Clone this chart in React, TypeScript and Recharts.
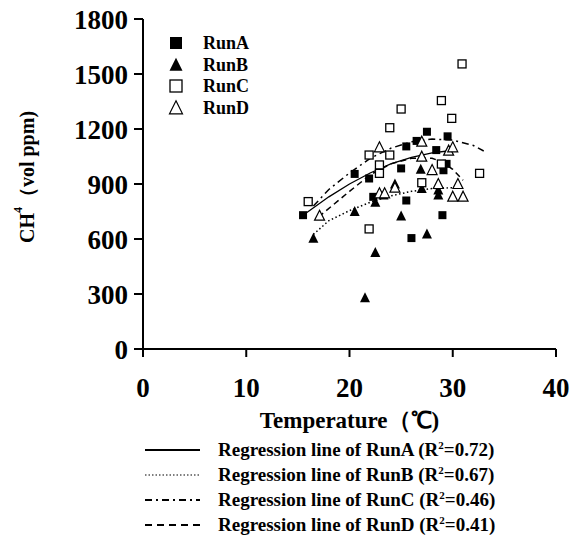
import React from "react";
import { ScatterChart, Scatter, XAxis, YAxis } from "recharts";

// axis ticks
const xTicks = [0, 10, 20, 30, 40];
const yTicks = [0, 300, 600, 900, 1200, 1500, 1800];

// observed CH4 (vol ppm) vs temperature
const runA = [
	{ x: 15.5, y: 730 }, { x: 20.5, y: 955 }, { x: 21.9, y: 930 }, { x: 22.3, y: 830 },
	{ x: 25.0, y: 985 }, { x: 25.5, y: 1105 }, { x: 25.5, y: 810 }, { x: 26.0, y: 605 },
	{ x: 26.5, y: 1135 }, { x: 27.5, y: 1185 }, { x: 28.4, y: 1085 }, { x: 29.0, y: 730 },
	{ x: 29.1, y: 975 }, { x: 29.4, y: 1010 }, { x: 29.5, y: 1160 },
];
const runB = [
	{ x: 16.5, y: 604 }, { x: 20.5, y: 750 }, { x: 21.5, y: 280 }, { x: 22.5, y: 527 },
	{ x: 22.5, y: 800 }, { x: 23.3, y: 840 }, { x: 24.4, y: 900 }, { x: 25.0, y: 725 },
	{ x: 26.9, y: 980 }, { x: 27.0, y: 876 }, { x: 27.5, y: 627 }, { x: 28.6, y: 867 },
	{ x: 28.6, y: 840 },
];
const runC = [
	{ x: 16.0, y: 804 }, { x: 21.9, y: 1058 }, { x: 21.9, y: 655 }, { x: 22.9, y: 1004 },
	{ x: 22.9, y: 958 }, { x: 23.9, y: 1207 }, { x: 23.9, y: 1058 }, { x: 25.0, y: 1309 },
	{ x: 27.0, y: 907 }, { x: 28.9, y: 1355 }, { x: 28.9, y: 1009 }, { x: 29.9, y: 1258 },
	{ x: 30.9, y: 1555 }, { x: 32.6, y: 958 },
];
const runD = [
	{ x: 17.1, y: 727 }, { x: 22.9, y: 1100 }, { x: 22.9, y: 849 }, { x: 23.4, y: 849 },
	{ x: 24.4, y: 880 }, { x: 27.0, y: 1131 }, { x: 27.0, y: 1049 }, { x: 28.0, y: 976 },
	{ x: 28.6, y: 900 }, { x: 29.6, y: 1082 }, { x: 30.0, y: 1100 }, { x: 30.0, y: 831 },
	{ x: 30.5, y: 900 }, { x: 31.0, y: 831 },
];

// regression curves
const fitA = [
	{ x: 15.5, y: 730 }, { x: 18, y: 830 }, { x: 20, y: 900 }, { x: 22, y: 960 },
	{ x: 24, y: 1010 }, { x: 26, y: 1045 }, { x: 28, y: 1070 }, { x: 29.5, y: 1080 },
];
const fitB = [
	{ x: 16.5, y: 625 }, { x: 18, y: 700 }, { x: 20, y: 755 }, { x: 22, y: 800 },
	{ x: 24, y: 835 }, { x: 26, y: 860 }, { x: 28, y: 875 }, { x: 30, y: 880 },
];
const fitC = [
	{ x: 16.5, y: 780 }, { x: 18, y: 870 }, { x: 20, y: 960 }, { x: 22, y: 1040 },
	{ x: 24, y: 1095 }, { x: 26, y: 1130 }, { x: 28, y: 1145 }, { x: 30, y: 1140 },
	{ x: 32, y: 1110 }, { x: 33, y: 1080 },
];
const fitD = [
	{ x: 17, y: 720 }, { x: 20, y: 860 }, { x: 22, y: 950 }, { x: 24, y: 1010 },
	{ x: 26, y: 1040 }, { x: 28, y: 1040 }, { x: 29, y: 1020 }, { x: 30, y: 980 },
	{ x: 31, y: 920 },
];

const runNames = ["RunA", "RunB", "RunC", "RunD"];
const fitLabels = [
	{ run: "RunA", r2: "0.72", dash: "" },
	{ run: "RunB", r2: "0.67", dash: "1.5 2" },
	{ run: "RunC", r2: "0.46", dash: "7 4 2 4" },
	{ run: "RunD", r2: "0.41", dash: "7 5" },
];

const font = "'Liberation Serif', 'Times New Roman', serif";

// page x offset (body margin); the wrapper is pulled up to y = 0
const OX = 8;

const FilledSquare = (p: any) => {
	const s = p.s || 8;
	return <rect x={p.cx - s / 2} y={p.cy - s / 2} width={s} height={s} fill="#000" />;
};
const OpenSquare = (p: any) => {
	const s = p.s || 8;
	return (
		<rect x={p.cx - s / 2} y={p.cy - s / 2} width={s} height={s} fill="#fff" stroke="#000" strokeWidth={1.3} />
	);
};
const FilledTri = (p: any) => {
	const s = p.s || 10;
	return (
		<polygon
			points={`${p.cx},${p.cy - s * 0.55} ${p.cx + s / 2},${p.cy + s * 0.45} ${p.cx - s / 2},${p.cy + s * 0.45}`}
			fill="#000"
		/>
	);
};
const OpenTri = (p: any) => {
	const s = p.s || 10;
	return (
		<polygon
			points={`${p.cx},${p.cy - s * 0.55} ${p.cx + s / 2},${p.cy + s * 0.45} ${p.cx - s / 2},${p.cy + s * 0.45}`}
			fill="#fff"
			stroke="#000"
			strokeWidth={1.2}
		/>
	);
};
const NoDot = () => <g />;

const markers = [FilledSquare, FilledTri, OpenSquare, OpenTri];

const YLabel = () => {
	const cx = 27 - OX;
	const cy = 177;
	return (
		<text
			x={cx}
			y={cy}
			transform={`rotate(-90, ${cx}, ${cy})`}
			textAnchor="middle"
			dominantBaseline="central"
			fontFamily={font}
			fontWeight="bold"
			fontSize={20}
			fill="#000"
		>
			CH<tspan fontSize={12} dy={-9}>4</tspan>
			<tspan dy={9}>（vol ppm)</tspan>
		</text>
	);
};

const XLabel = (props: any) => {
	const vb = props.viewBox;
	return (
		<text
			x={vb.x + vb.width / 2}
			y={428}
			textAnchor="middle"
			fontFamily={font}
			fontWeight="bold"
			fontSize={23}
			fill="#000"
		>
			Temperature（℃)
		</text>
	);
};

const tickStyle = { fontFamily: font, fontWeight: "bold", fontSize: 27, fill: "#000" };

export default function App() {
	return (
		<div style={{ position: "relative", width: 563, height: 543, marginTop: -8 }}>
			<ScatterChart
				width={563}
				height={543}
				margin={{ top: 19, right: 15, left: 0, bottom: 154 }}
			>
				<XAxis
					type="number"
					dataKey="x"
					domain={[0, 40]}
					ticks={xTicks}
					interval={0}
					height={40}
					tickSize={8}
					tickMargin={21}
					stroke="#000"
					strokeWidth={2}
					tick={tickStyle}
					label={<XLabel />}
				/>
				<YAxis
					type="number"
					dataKey="y"
					domain={[0, 1800]}
					ticks={yTicks}
					interval={0}
					width={135}
					tickSize={9}
					tickMargin={6}
					stroke="#000"
					strokeWidth={2}
					tick={tickStyle}
					label={<YLabel />}
				/>
				<Scatter data={fitA} line={{ stroke: "#000", strokeWidth: 1.3 }} lineType="joint" shape={NoDot} isAnimationActive={false} />
				<Scatter data={fitB} line={{ stroke: "#000", strokeWidth: 1.5, strokeDasharray: "1.5 2.5" }} lineType="joint" shape={NoDot} isAnimationActive={false} />
				<Scatter data={fitC} line={{ stroke: "#000", strokeWidth: 1.5, strokeDasharray: "7 4 2 4" }} lineType="joint" shape={NoDot} isAnimationActive={false} />
				<Scatter data={fitD} line={{ stroke: "#000", strokeWidth: 1.5, strokeDasharray: "6 4" }} lineType="joint" shape={NoDot} isAnimationActive={false} />
				<Scatter data={runA} shape={FilledSquare} isAnimationActive={false} />
				<Scatter data={runB} shape={FilledTri} isAnimationActive={false} />
				<Scatter data={runC} shape={OpenSquare} isAnimationActive={false} />
				<Scatter data={runD} shape={OpenTri} isAnimationActive={false} />
			</ScatterChart>

			{/* marker legend, top left of plot */}
			<div style={{ position: "absolute", left: 166 - OX, top: 32 }}>
				{runNames.map((name, i) => {
					const M = markers[i];
					return (
						<div key={name} style={{ display: "flex", alignItems: "center", height: 21.7 }}>
							<svg width={20} height={20}>
								<M cx={10} cy={10} s={i % 2 === 0 ? 12 : 13} />
							</svg>
							<span
								style={{
									marginLeft: 17,
									fontFamily: font,
									fontWeight: "bold",
									fontSize: 18,
									lineHeight: "20px",
								}}
							>
								{name}
							</span>
						</div>
					);
				})}
			</div>

			{/* regression line legend, below the axis */}
			<div style={{ position: "absolute", left: 145 - OX, top: 437 }}>
				{fitLabels.map((f) => (
					<div key={f.run} style={{ display: "flex", alignItems: "center", height: 25 }}>
						<svg width={56} height={10}>
							<line
								x1={0}
								y1={5}
								x2={55}
								y2={5}
								stroke="#000"
								strokeWidth={f.dash === "1.5 2" ? 1.2 : 2}
								strokeDasharray={f.dash || undefined}
							/>
						</svg>
						<span
							style={{
								marginLeft: 17,
								fontFamily: font,
								fontWeight: "bold",
								fontSize: 19,
								lineHeight: "22px",
								whiteSpace: "nowrap",
							}}
						>
							Regression line of {f.run} (R<sup style={{ fontSize: 11, lineHeight: 0 }}>2</sup>={f.r2})
						</span>
					</div>
				))}
			</div>
		</div>
	);
}
